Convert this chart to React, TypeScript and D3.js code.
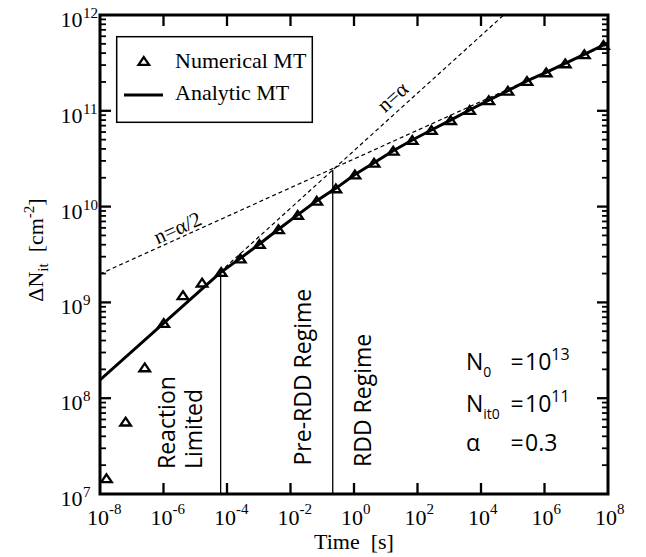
import React from 'react';
import * as d3 from 'd3';

// ---- Data ----
const numericalTime = [1.6e-8, 6.4e-8, 2.56e-7, 1.02e-6, 4.1e-6, 1.64e-5, 6.55e-5, 2.62e-4, 1.05e-3, 4.19e-3, 1.68e-2, 6.71e-2, 0.268, 1.07, 4.29, 17.2, 68.7, 275, 1100, 4400, 17600, 70400, 2.81e5, 1.13e6, 4.5e6, 1.8e7, 7.2e7];
const numericalDeltaNit = [1.46e7, 5.7e7, 2.1e8, 6.1e8, 1.19e9, 1.61e9, 2.08e9, 2.88e9, 4.07e9, 5.8e9, 8.2e9, 1.15e10, 1.55e10, 2.16e10, 2.87e10, 3.83e10, 4.96e10, 6.3e10, 8.0e10, 1.02e11, 1.29e11, 1.62e11, 2.05e11, 2.52e11, 3.13e11, 3.89e11, 4.86e11];

const analyticTime = [1e-8, 6.55e-5, 2.62e-4, 1.05e-3, 4.19e-3, 1.68e-2, 6.71e-2, 0.268, 1.07, 4.29, 17.2, 68.7, 275, 1100, 4400, 17600, 70400, 2.81e5, 1.13e6, 4.5e6, 1.8e7, 7.2e7, 1e8];
const analyticDeltaNit = [1.55e8, 2.08e9, 2.88e9, 4.07e9, 5.8e9, 8.2e9, 1.15e10, 1.55e10, 2.16e10, 2.87e10, 3.83e10, 4.96e10, 6.3e10, 8.0e10, 1.02e11, 1.29e11, 1.62e11, 2.05e11, 2.52e11, 3.13e11, 3.89e11, 4.86e11, 5.1e11];

const halfAlphaTime = [1e-8, 1e8];
const halfAlphaDeltaNit = [1.98e9, 4.98e11];
const alphaTime = [6.0e-5, 5.2e4];
const alphaDeltaNit = [2.07e9, 1e12];

const regimeBoundaryTime = [6.3e-5, 0.214];
const regimeBoundaryTop = [2.08e9, 2.41e10];

const xTickExponents = [-8, -6, -4, -2, 0, 2, 4, 6, 8];
const yTickExponents = [7, 8, 9, 10, 11, 12];
const yMinorMultipliers = [2, 3, 4, 5, 6, 7, 8, 9];

const legendLabels = ['Numerical MT', 'Analytic MT'];
const slopeLabels = ['n=\u03b1/2', 'n=\u03b1'];
const slopeLabelTimes = [3.74e-6, 32.5];
const regimeLabels = ['Reaction', 'Limited', 'Pre-RDD Regime', 'RDD Regime'];
const paramNames = ['N', 'N', '\u03b1'];
const paramSubs = ['0', 'it0', ''];
const paramValues = ['10', '10', '0.3'];
const paramExps = ['13', '11', ''];

// ---- Layout ----
const W = 646;
const H = 557;
const L = 100, R = 608, T = 15, B = 494;
const SERIF = '"Liberation Serif", "Times New Roman", serif';
const SANS = '"Open Sans", "Noto Sans", sans-serif';

const x = d3.scaleLog().domain([1e-8, 1e8]).range([L, R]);
const y = d3.scaleLog().domain([1e7, 1e12]).range([B, T]);

const line = d3.line<[number, number]>().x(d => x(d[0])).y(d => y(d[1]));

const zip = (a: number[], b: number[]) => a.map((v, i) => [v, b[i]] as [number, number]);

function interpLog(ts: number[], ns: number[], t: number) {
  const lt0 = Math.log10(ts[0]), lt1 = Math.log10(ts[1]);
  const ln0 = Math.log10(ns[0]), ln1 = Math.log10(ns[1]);
  const f = (Math.log10(t) - lt0) / (lt1 - lt0);
  return Math.pow(10, ln0 + f * (ln1 - ln0));
}

function angleOf(ts: number[], ns: number[]) {
  return (Math.atan2(y(ns[1]) - y(ns[0]), x(ts[1]) - x(ts[0])) * 180) / Math.PI;
}

const TRI = 'M0,-3.9L5.3,3.9L-5.3,3.9Z';

export default function App() {
  const xMajor = xTickExponents.map(e => Math.pow(10, e));
  const yMajor = yTickExponents.map(e => Math.pow(10, e));
  const yMinor: number[] = [];
  yTickExponents.slice(0, -1).forEach(e => yMinorMultipliers.forEach(m => yMinor.push(m * Math.pow(10, e))));

  const slopeSets = [
    { ts: halfAlphaTime, ns: halfAlphaDeltaNit, dy: -3 },
    { ts: alphaTime, ns: alphaDeltaNit, dy: -7 },
  ];

  return (
    <svg width={W} height={H} style={{ position: 'absolute', left: 0, top: 0, background: '#fff' }}>
      <rect x={0} y={0} width={W} height={H} fill="#fff" />
      <defs>
        <clipPath id="plot">
          <rect x={L} y={T} width={R - L} height={B - T} />
        </clipPath>
      </defs>

      {/* dashed slope lines */}
      <g clipPath="url(#plot)" fill="none" stroke="#000" strokeWidth={1.2} strokeDasharray="4,3">
        <path d={line(zip(halfAlphaTime, halfAlphaDeltaNit)) || ''} />
        <path d={line(zip(alphaTime, alphaDeltaNit)) || ''} />
      </g>

      {/* regime boundary lines */}
      {regimeBoundaryTime.map((t, i) => (
        <line key={'rb' + i} x1={x(t)} x2={x(t)} y1={B} y2={y(regimeBoundaryTop[i])} stroke="#000" strokeWidth={1.3} />
      ))}

      {/* analytic line */}
      <path d={line(zip(analyticTime, analyticDeltaNit)) || ''} fill="none" stroke="#000" strokeWidth={3} strokeLinejoin="round" clipPath="url(#plot)" />

      {/* numerical markers */}
      {numericalTime.map((t, i) => (
        <path key={'m' + i} d={TRI} transform={`translate(${x(t)},${y(numericalDeltaNit[i])})`} fill="none" stroke="#000" strokeWidth={2.3} />
      ))}

      {/* slope labels */}
      {slopeLabels.map((lab, i) => {
        const s = slopeSets[i];
        const t = slopeLabelTimes[i];
        const px = x(t);
        const py = y(interpLog(s.ts, s.ns, t));
        const ang = angleOf(s.ts, s.ns);
        return (
          <text key={'sl' + i} transform={`translate(${px},${py}) rotate(${ang})`} dy={s.dy} textAnchor="middle" fontFamily={SERIF} fontSize={21}>
            {lab}
          </text>
        );
      })}

      {/* axes frame */}
      <rect x={L} y={T} width={R - L} height={B - T} fill="none" stroke="#000" strokeWidth={3} />

      {/* x ticks */}
      {xMajor.slice(1, -1).map((v, i) => (
        <g key={'xt' + i} stroke="#000" strokeWidth={2.3}>
          <line x1={x(v)} x2={x(v)} y1={B} y2={B - 11} />
          <line x1={x(v)} x2={x(v)} y1={T} y2={T + 11} />
        </g>
      ))}
      {/* y ticks */}
      {yMajor.slice(1, -1).map((v, i) => (
        <g key={'yt' + i} stroke="#000" strokeWidth={2.3}>
          <line x1={L} x2={L + 11} y1={y(v)} y2={y(v)} />
          <line x1={R} x2={R - 11} y1={y(v)} y2={y(v)} />
        </g>
      ))}
      {yMinor.map((v, i) => (
        <g key={'ym' + i} stroke="#000" strokeWidth={1.8}>
          <line x1={L} x2={L + 6} y1={y(v)} y2={y(v)} />
          <line x1={R} x2={R - 6} y1={y(v)} y2={y(v)} />
        </g>
      ))}

      {/* x tick labels */}
      {xTickExponents.map((e, i) => {
        const cx = x(Math.pow(10, e)) - 2;
        return (
          <g key={'xl' + i} fontFamily={SERIF}>
            <text x={cx} y={525} textAnchor="middle" fontSize={22}>10</text>
            <text x={cx + 11} y={514} fontSize={15}>{String(e)}</text>
          </g>
        );
      })}
      {/* y tick labels */}
      {yTickExponents.map((e, i) => {
        const ty = y(Math.pow(10, e));
        return (
          <g key={'yl' + i} fontFamily={SERIF}>
            <text x={82.5} y={ty + 12} textAnchor="end" fontSize={22}>10</text>
            <text x={83} y={ty + 3} fontSize={15}>{String(e)}</text>
          </g>
        );
      })}

      {/* axis titles */}
      <text x={(L + R) / 2} y={549} textAnchor="middle" fontFamily={SERIF} fontSize={22} style={{ whiteSpace: 'pre' }}>
        {'Time  [s]'}
      </text>
      <text transform="translate(43,250) rotate(-90)" textAnchor="middle" fontFamily={SERIF} fontSize={22} style={{ whiteSpace: 'pre' }}>
        {'\u0394N'}
        <tspan dy={5} fontSize={15}>it</tspan>
        <tspan dy={-5}>{'  [cm'}</tspan>
        <tspan dy={-9} fontSize={15}>-2</tspan>
        <tspan dy={9}>]</tspan>
      </text>

      {/* legend */}
      <rect x={116.7} y={36.7} width={195.6} height={85.6} fill="#fff" stroke="#000" strokeWidth={1.5} />
      <path d={TRI} transform="translate(143.8,61)" fill="none" stroke="#000" strokeWidth={2.3} />
      <text x={175} y={68.3} fontFamily={SERIF} fontSize={22}>{legendLabels[0]}</text>
      <line x1={124} x2={163} y1={95} y2={95} stroke="#000" strokeWidth={3} />
      <text x={175} y={100} fontFamily={SERIF} fontSize={22}>{legendLabels[1]}</text>

      {/* regime labels */}
      <g fontFamily={SANS} fontSize={23}>
        <text transform="translate(175,469) rotate(-90)">{regimeLabels[0]}</text>
        <text transform="translate(202,469) rotate(-90)">{regimeLabels[1]}</text>
        <text transform="translate(311,465.5) rotate(-90)">{regimeLabels[2]}</text>
        <text transform="translate(371,467) rotate(-90)">{regimeLabels[3]}</text>
      </g>

      {/* parameters */}
      <g fontFamily={SANS} fontSize={23}>
        {paramNames.map((n, i) => {
          const by = [370, 412, 451][i];
          return (
            <g key={'p' + i}>
              <text x={466} y={by}>
                {n}
                {paramSubs[i] ? <tspan dy={7} fontSize={14}>{paramSubs[i]}</tspan> : null}
              </text>
              <text x={510.5} y={by}>=</text>
              <text x={525} y={by}>
                {paramValues[i]}
                {paramExps[i] ? <tspan dy={-10} fontSize={16}>{paramExps[i]}</tspan> : null}
              </text>
            </g>
          );
        })}
      </g>
    </svg>
  );
}
